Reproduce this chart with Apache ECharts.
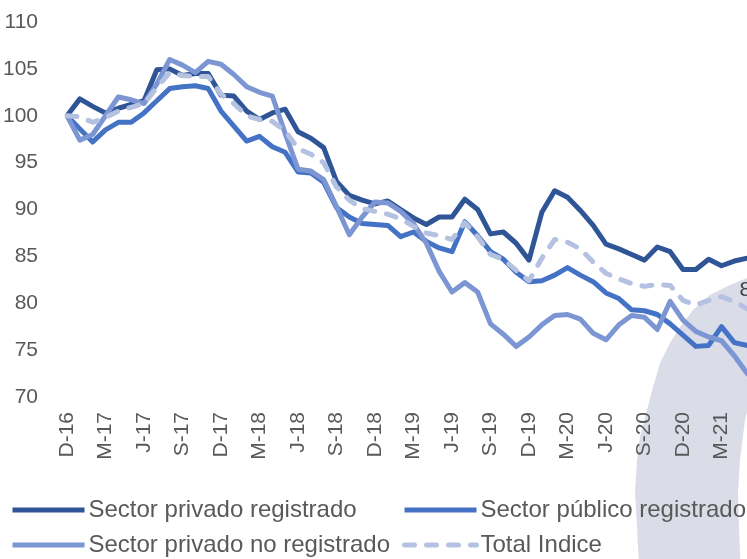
<!DOCTYPE html>
<html>
<head>
<meta charset="utf-8">
<script src="https://cdn.jsdelivr.net/npm/echarts@6/dist/echarts.min.js"></script>
<style>
  html, body { margin: 0; padding: 0; background: #fff; }
  #chart { width: 747px; height: 559px; }
</style>
</head>
<body>
<div id="chart"></div>
<script>
// meses (dic-16 a jun-21)
var months = [
  'D-16',
  'E-17','F-17','M-17','A-17','M-17','J-17','J-17','A-17','S-17','O-17','N-17','D-17',
  'E-18','F-18','M-18','A-18','M-18','J-18','J-18','A-18','S-18','O-18','N-18','D-18',
  'E-19','F-19','M-19','A-19','M-19','J-19','J-19','A-19','S-19','O-19','N-19','D-19',
  'E-20','F-20','M-20','A-20','M-20','J-20','J-20','A-20','S-20','O-20','N-20','D-20',
  'E-21','F-21','M-21','A-21','M-21','J-21'
];

var privadoRegistrado = [
  100.0, 101.8, 101.0, 100.3, 100.8, 101.2, 101.6, 104.9, 105.0, 104.3, 104.5, 104.5, 102.2,
  102.1, 100.5, 99.6, 100.3, 100.7, 98.3, 97.6, 96.6, 93.0, 91.5, 91.0, 90.6,
  90.9, 90.0, 89.1, 88.4, 89.2, 89.2, 91.1, 90.0, 87.4, 87.6, 86.4, 84.6,
  89.7, 92.0, 91.3, 89.9, 88.3, 86.3, 85.8, 85.2, 84.6, 86.0, 85.5, 83.6,
  83.6, 84.7, 84.0, 84.5, 84.8, 85.0
];

var publicoRegistrado = [
  100.0, 98.6, 97.2, 98.5, 99.3, 99.3, 100.3, 101.6, 102.9, 103.1, 103.2, 102.9, 100.5,
  98.9, 97.3, 97.8, 96.7, 96.1, 94.0, 93.9, 92.9, 90.2, 89.2, 88.5, 88.4,
  88.3, 87.1, 87.6, 86.6, 85.9, 85.5, 88.7, 87.2, 85.5, 84.7, 83.3, 82.3,
  82.4, 83.0, 83.8, 83.0, 82.3, 81.1, 80.5, 79.3, 79.2, 78.8, 77.8, 76.6,
  75.4, 75.5, 77.5, 75.8, 75.5, 75.8
];

var privadoNoRegistrado = [
  100.0, 97.4, 98.0, 100.0, 102.0, 101.7, 101.3, 103.4, 106.0, 105.4, 104.6, 105.8, 105.5,
  104.4, 103.1, 102.5, 102.1, 98.1, 94.3, 94.1, 93.2, 90.3, 87.3, 89.2, 90.8,
  90.7, 89.8, 88.5, 86.4, 83.4, 81.2, 82.2, 81.2, 77.8, 76.7, 75.4, 76.4,
  77.7, 78.7, 78.8, 78.3, 76.8, 76.1, 77.7, 78.7, 78.5, 77.2, 80.2, 78.2,
  77.0, 76.4, 76.0, 74.4, 72.5, 71.5
];

var totalIndice = [
  100.0, 99.9, 99.3, 99.8, 100.5, 100.9, 101.3, 103.0, 104.6, 104.3, 104.2, 104.2, 102.3,
  101.3, 100.0, 99.6, 99.4, 98.4, 96.5, 95.9, 95.0, 92.4, 91.0, 90.1, 89.8,
  89.5, 89.0, 88.2, 87.5, 87.2, 86.8, 88.6, 87.1, 85.2, 84.7, 83.5, 82.4,
  84.8, 86.8, 86.5, 85.8, 84.4, 83.2, 82.6, 82.1, 81.8, 82.0, 81.9, 80.3,
  79.8, 80.3, 80.7, 80.2, 79.4, 80.1
];

var names = ['Sector privado registrado', 'Sector público registrado',
             'Sector privado no registrado', 'Total Indice'];
var colors = ['#2f5597', '#4472c4', '#7b96d3', '#b4c1e1'];

var font = "'Liberation Sans', Arial, sans-serif";
var chart = echarts.init(document.getElementById('chart'));

function lineSeries(idx, data, extra) {
  var s = {
    name: names[idx],
    type: 'line',
    data: data,
    symbol: 'none',
    color: colors[idx],
    lineStyle: { width: 5, color: colors[idx], join: 'round' },
    z: 2 + idx
  };
  if (extra) Object.assign(s.lineStyle, extra);
  return s;
}

// etiqueta solo en el ultimo punto del total
var last = totalIndice.length - 1;
var totalData = totalIndice.map(function (v, i) {
  if (i !== last) return { value: v, label: { show: false } };
  return {
    value: v,
    label: {
      show: true, position: 'top', distance: 1,
      fontFamily: font, fontSize: 21, color: '#404040',
      formatter: function (p) { return p.value.toFixed(1).replace('.', ','); }
    }
  };
});

function legendAt(name, left, top) {
  return {
    data: [name], left: left, top: top, orient: 'horizontal',
    itemWidth: 72, itemHeight: 14, itemGap: 0, padding: 0,
    selectedMode: false,
    itemStyle: { opacity: 0 },
    lineStyle: { width: 5 },
    textStyle: { fontFamily: font, fontSize: 24, color: '#595959', padding: [0, 0, 0, -1] }
  };
}

var totalSeries = lineSeries(3, totalData, { type: [10, 12], cap: 'round' });
totalSeries.symbol = 'circle';
totalSeries.symbolSize = 1;
totalSeries.showSymbol = true;
totalSeries.clip = false;
totalSeries.itemStyle = { color: 'rgba(255,255,255,0)' };

chart.setOption({
  animation: false,
  graphic: {
    elements: [{
      type: 'polygon', z: -10, silent: true,
      shape: {
        points: [[641, 600], [637, 527], [635, 493], [637, 460], [640, 437], [647, 410],
                 [653, 387], [660, 363], [670, 343], [680, 327], [693, 310], [710, 295],
                 [730, 285], [747, 278], [770, 272], [790, 300], [770, 380], [750, 400],
                 [745, 420], [740, 460], [738, 493], [739, 527], [742, 600]]
      },
      style: { fill: '#dadde8' }
    }]
  },
  legend: [
    legendAt(names[0], 10, 498),
    legendAt(names[1], 402, 498),
    legendAt(names[2], 10, 533),
    legendAt(names[3], 402, 533)
  ],
  grid: { left: 67, top: 22, width: 693, bottom: 162, outerBoundsMode: 'none', containLabel: false },
  xAxis: {
    type: 'category',
    data: months,
    boundaryGap: false,
    axisLine: { show: false },
    axisTick: { show: false },
    axisLabel: {
      interval: 2, rotate: 90, margin: 15,
      fontFamily: font, fontSize: 21, color: '#595959'
    }
  },
  yAxis: {
    type: 'value',
    min: 70, max: 110, interval: 5,
    axisLine: { show: false },
    axisTick: { show: false },
    splitLine: { show: false },
    axisLabel: { margin: 29, fontFamily: font, fontSize: 21, color: '#595959' }
  },
  series: [
    lineSeries(0, privadoRegistrado),
    lineSeries(1, publicoRegistrado),
    lineSeries(2, privadoNoRegistrado),
    totalSeries
  ]
});
</script>
</body>
</html>
